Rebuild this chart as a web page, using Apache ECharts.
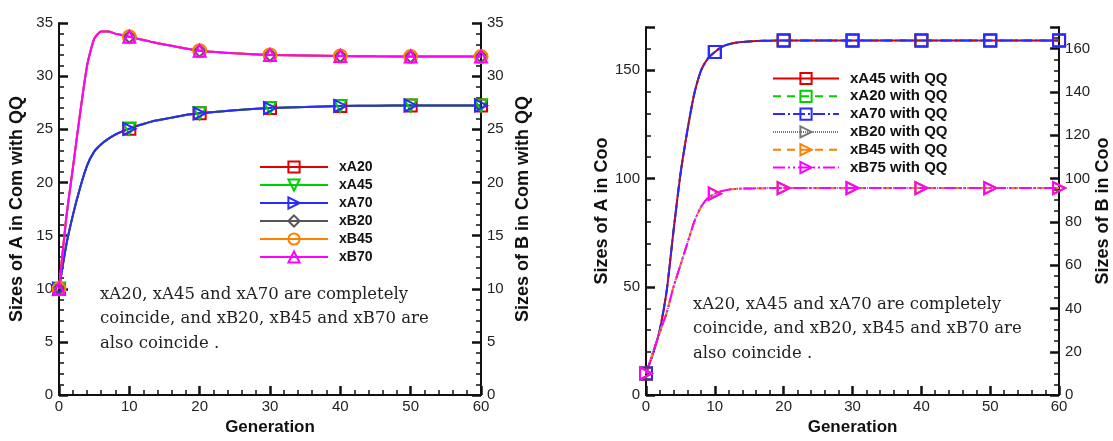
<!DOCTYPE html>
<html>
<head>
<meta charset="utf-8">
<script src="https://cdn.jsdelivr.net/npm/echarts@6/dist/echarts.min.js"></script>
<style>
  html, body { margin: 0; padding: 0; background: #fff; }
  #main { width: 1113px; height: 441px; }
</style>
</head>
<body>
<div id="main"></div>
<script>
// generations sampled along the curves, markers only every 10
var gen = [0, 1, 2, 3, 4, 5, 6, 7, 8, 9, 10, 11, 12, 13, 14, 16, 18, 20, 25, 30, 35, 40, 45, 50, 55, 60];
var markGen = [0, 10, 20, 30, 40, 50, 60];

// left panel (Com with QQ): xA20/45/70 coincide, xB20/45/70 coincide
var comA = [10, 14, 17, 19.5, 21.6, 22.9, 23.6, 24.1, 24.5, 24.8, 25.05, 25.3, 25.5, 25.7, 25.85, 26.1, 26.35, 26.5, 26.8, 27.0, 27.1, 27.2, 27.22, 27.25, 27.25, 27.25];
var comB = [10, 16.5, 21.5, 26.5, 31, 33.5, 34.2, 34.2, 34.0, 33.85, 33.7, 33.55, 33.4, 33.25, 33.1, 32.85, 32.6, 32.4, 32.15, 32.0, 31.95, 31.9, 31.87, 31.85, 31.85, 31.85];

// right panel (Coo)
var cooA = [10, 19, 30, 48, 76, 102, 122, 139, 150, 155.5, 158.5, 160.8, 162, 162.7, 163.1, 163.5, 163.7, 163.8, 163.8, 163.8, 163.8, 163.8, 163.8, 163.8, 163.8, 163.8];
var cooB = [10, 19.5, 29, 38, 50, 60, 70, 80, 87, 91, 93, 94.2, 94.9, 95.2, 95.4, 95.5, 95.6, 95.6, 95.6, 95.6, 95.6, 95.6, 95.6, 95.6, 95.6, 95.6];

var comNames = ['xA20', 'xA45', 'xA70', 'xB20', 'xB45', 'xB70'];
var cooNames = ['xA45 with QQ', 'xA20 with QQ', 'xA70 with QQ', 'xB20 with QQ', 'xB45 with QQ', 'xB75 with QQ'];

var note = 'xA20, xA45 and xA70 are completely\ncoincide, and xB20, xB45 and xB70 are\nalso coincide .';

var TRI_R = 'path://M0,0L10,5L0,10Z';
var TRI_D = 'path://M0,0L10,0L5,10Z';
var AX = 'Liberation Sans, Arial, sans-serif';

function pts(vals) {
  return gen.map(function (g, i) {
    if (markGen.indexOf(g) >= 0) return [g, vals[i]];
    return { value: [g, vals[i]], symbol: 'none' };
  });
}

function line(name, vals, color, symbol, dash, xi, yi, size) {
  return {
    name: name,
    type: 'line',
    xAxisIndex: xi,
    yAxisIndex: yi,
    data: pts(vals),
    smooth: 0.2,
    symbol: symbol,
    symbolSize: size,
    showAllSymbol: true,
    lineStyle: { color: color, width: 2, type: dash },
    itemStyle: { color: 'rgba(255,255,255,0)', borderColor: color, borderWidth: 2 },
    emphasis: { disabled: true }
  };
}

function xAx(grid) {
  return {
    type: 'value', gridIndex: grid, position: 'bottom', min: 0, max: 60, interval: 10,
    name: 'Generation', nameLocation: 'middle', nameGap: 19,
    nameTextStyle: { fontFamily: AX, fontWeight: 'bold', fontSize: 17, color: '#111' },
    axisLine: { onZero: false, lineStyle: { color: '#111', width: 2 } },
    axisTick: { inside: true, length: 9, lineStyle: { color: '#111', width: 2.5 } },
    minorTick: { show: true, splitNumber: 5, length: 5, lineStyle: { color: '#111', width: 1.5 } },
    axisLabel: { fontFamily: AX, fontSize: 15, color: '#222', margin: 4 },
    splitLine: { show: false }
  };
}

function yAx(grid, pos, max, step, minor, title, showMax) {
  return {
    type: 'value', gridIndex: grid, position: pos, min: 0, max: max, interval: step,
    name: title, nameLocation: 'middle', nameGap: 33,
    nameTextStyle: { fontFamily: AX, fontWeight: 'bold', fontSize: 18, color: '#111' },
    axisLine: { show: true, onZero: false, lineStyle: { color: '#111', width: 2 } },
    axisTick: { inside: true, length: 9, lineStyle: { color: '#111', width: 2.5 } },
    minorTick: { show: true, splitNumber: minor, length: 5, lineStyle: { color: '#111', width: 1.5 } },
    axisLabel: { fontFamily: AX, fontSize: 15, color: '#222', margin: 6, showMaxLabel: showMax },
    splitLine: { show: false }
  };
}

function legend(names, left, top, w, fs, gap) {
  return {
    data: names, orient: 'vertical', left: left, top: top, padding: 0,
    itemWidth: w, itemHeight: 14, itemGap: gap,
    selectedMode: false,
    textStyle: { fontFamily: AX, fontWeight: 'bold', fontSize: fs, color: '#111', padding: [0, 0, 0, 6] }
  };
}

var series = [
  line('xA20', comA, '#e00000', 'rect', 'solid', 0, 0, 12),
  line('xA45', comA, '#00d000', TRI_D, 'solid', 0, 0, 12),
  line('xA70', comA, '#2a2aff', TRI_R, 'solid', 0, 0, 12),
  line('xB20', comB, '#555555', 'diamond', 'solid', 0, 0, 12),
  line('xB45', comB, '#ff8000', 'circle', 'solid', 0, 0, 13),
  line('xB70', comB, '#ff00ff', 'triangle', 'solid', 0, 0, 12),

  line('xA20 with QQ', cooA, '#00d000', 'rect', [8, 6], 1, 2, 12),
  line('xA45 with QQ', cooA, '#e00000', 'rect', 'solid', 1, 2, 12),
  line('xA70 with QQ', cooA, '#2a2aff', 'rect', [12, 3, 2, 3], 1, 2, 12),
  line('xB20 with QQ', cooB, '#777777', TRI_R, [1, 1], 1, 2, 12),
  line('xB45 with QQ', cooB, '#ff8000', TRI_R, [8, 6], 1, 2, 12),
  line('xB75 with QQ', cooB, '#ff00ff', TRI_R, [12, 3, 2, 3, 2, 3], 1, 2, 12)
];

var noteFont = '16.5px "DejaVu Serif"';

var chart = echarts.init(document.getElementById('main'), null, { renderer: 'canvas' });
chart.setOption({
  backgroundColor: '#fff',
  animation: false,
  grid: [
    { left: 59, right: 632, top: 23, bottom: 33 },
    { left: 646, right: 51, top: 27, bottom: 34 }
  ],
  xAxis: [xAx(0), xAx(1)],
  yAxis: [
    yAx(0, 'left', 35, 5, 5, 'Sizes of A in Com with QQ', true),
    yAx(0, 'right', 35, 5, 5, 'Sizes of B in Com with QQ', true),
    yAx(1, 'left', 170, 50, 5, 'Sizes of A in Coo', false),
    yAx(1, 'right', 170, 20, 4, 'Sizes of B in Coo', false)
  ],
  legend: [
    legend(comNames, 259, 160, 68, 14, 4),
    legend(cooNames, 772, 71, 66, 15, 2.8)
  ],
  graphic: [
    { type: 'text', left: 100, top: 282, style: { text: note, font: noteFont, lineHeight: 24.5, fill: '#222' } },
    { type: 'text', left: 693, top: 292, style: { text: note, font: noteFont, lineHeight: 24.5, fill: '#222' } }
  ],
  series: series
});
</script>
</body>
</html>
